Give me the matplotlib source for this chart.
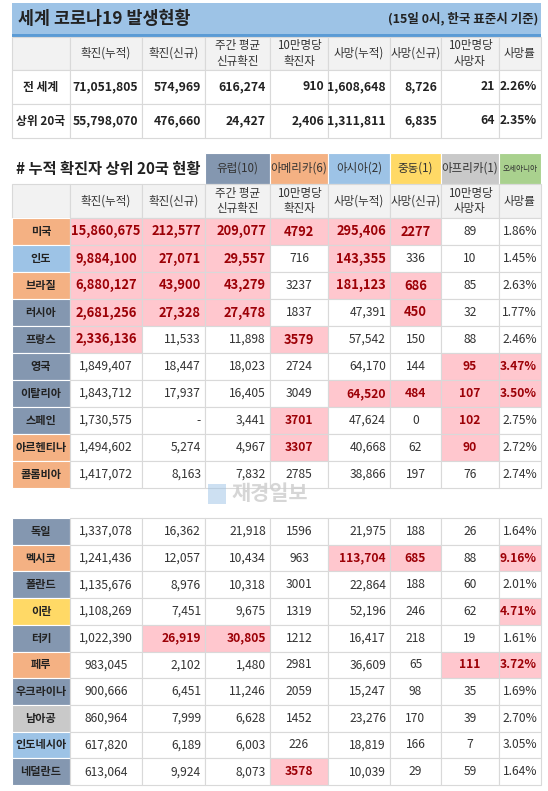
import matplotlib.pyplot as plt
from matplotlib.patches import Rectangle

plt.rcParams['font.family'] = ['Noto Sans CJK KR', 'DejaVu Sans']

# column edges (pixels)
xs = [12, 70, 142, 205, 270, 328, 390, 441, 499, 541]

headers = ["확진(누적)", "확진(신규)", "주간 평균\n신규확진", "10만명당\n확진자",
           "사망(누적)", "사망(신규)", "10만명당\n사망자", "사망률"]

summary_names = ["전 세계", "상위 20국"]
summary_rows = [
    ["71,051,805", "574,969", "616,274", "910", "1,608,648", "8,726", "21", "2.26%"],
    ["55,798,070", "476,660", "24,427", "2,406", "1,311,811", "6,835", "64", "2.35%"],
]

regions = ["유럽(10)", "아메리카(6)", "아시아(2)", "중동(1)", "아프리카(1)", "오세아니아"]
region_colors = {"EU": "#8497B0", "AM": "#F4B183", "AS": "#9DC3E6",
                 "ME": "#FFD966", "AF": "#C9C9C9", "OC": "#A9D18E"}
region_keys = ["EU", "AM", "AS", "ME", "AF", "OC"]

countries = ["미국", "인도", "브라질", "러시아", "프랑스", "영국", "이탈리아", "스페인", "아르헨티나", "콜롬비아",
             "독일", "멕시코", "폴란드", "이란", "터키", "페루", "우크라이나", "남아공", "인도네시아", "네덜란드"]
country_region = ["AM", "AS", "AM", "EU", "EU", "EU", "EU", "EU", "AM", "AM",
                  "EU", "AM", "EU", "ME", "EU", "AM", "EU", "AF", "AS", "EU"]
values = [
    ["15,860,675", "212,577", "209,077", "4792", "295,406", "2277", "89", "1.86%"],
    ["9,884,100", "27,071", "29,557", "716", "143,355", "336", "10", "1.45%"],
    ["6,880,127", "43,900", "43,279", "3237", "181,123", "686", "85", "2.63%"],
    ["2,681,256", "27,328", "27,478", "1837", "47,391", "450", "32", "1.77%"],
    ["2,336,136", "11,533", "11,898", "3579", "57,542", "150", "88", "2.46%"],
    ["1,849,407", "18,447", "18,023", "2724", "64,170", "144", "95", "3.47%"],
    ["1,843,712", "17,937", "16,405", "3049", "64,520", "484", "107", "3.50%"],
    ["1,730,575", "-", "3,441", "3701", "47,624", "0", "102", "2.75%"],
    ["1,494,602", "5,274", "4,967", "3307", "40,668", "62", "90", "2.72%"],
    ["1,417,072", "8,163", "7,832", "2785", "38,866", "197", "76", "2.74%"],
    ["1,337,078", "16,362", "21,918", "1596", "21,975", "188", "26", "1.64%"],
    ["1,241,436", "12,057", "10,434", "963", "113,704", "685", "88", "9.16%"],
    ["1,135,676", "8,976", "10,318", "3001", "22,864", "188", "60", "2.01%"],
    ["1,108,269", "7,451", "9,675", "1319", "52,196", "246", "62", "4.71%"],
    ["1,022,390", "26,919", "30,805", "1212", "16,417", "218", "19", "1.61%"],
    ["983,045", "2,102", "1,480", "2981", "36,609", "65", "111", "3.72%"],
    ["900,666", "6,451", "11,246", "2059", "15,247", "98", "35", "1.69%"],
    ["860,964", "7,999", "6,628", "1452", "23,276", "170", "39", "2.70%"],
    ["617,820", "6,189", "6,003", "226", "18,819", "166", "7", "3.05%"],
    ["613,064", "9,924", "8,073", "3578", "10,039", "29", "59", "1.64%"],
]
# highlighted cells (row, col)
highlight = {
    0: [0, 1, 2, 3, 4, 5], 1: [0, 1, 2, 4], 2: [0, 1, 2, 4, 5], 3: [0, 1, 2, 5],
    4: [0, 3], 5: [6, 7], 6: [4, 5, 6, 7], 7: [3, 6], 8: [3, 6],
    11: [4, 5, 7], 13: [7], 14: [1, 2], 15: [6, 7], 19: [3],
}

PINK = "#FFC7CE"
RED = "#9C0006"
GRID = "#D9D9D9"
HEAD = "#F2F2F2"

fig = plt.figure(figsize=(5.48, 7.91), dpi=100)
ax = fig.add_axes([0, 0, 1, 1])
ax.set_xlim(0, 548)
ax.set_ylim(791, 0)
ax.axis("off")


def cell(x0, x1, y0, y1, fc="white", ec=GRID):
    ax.add_patch(Rectangle((x0, y0), x1 - x0, y1 - y0, facecolor=fc, edgecolor=ec, lw=0.8))


def put(text, x0, x1, y0, y1, align="center", **kw):
    yc = (y0 + y1) / 2
    if align == "right":
        ax.text(x1 - 4, yc, text, ha="right", va="center", **kw)
    else:
        ax.text((x0 + x1) / 2, yc, text, ha="center", va="center", **kw)


# title bar
ax.add_patch(Rectangle((12, 3), 529, 32, facecolor="#9DC3E6", edgecolor="none"))
ax.add_patch(Rectangle((12, 34), 529, 2.5, facecolor="#5B9BD5", edgecolor="none"))
ax.text(18, 19, "세계 코로나19 발생현황", ha="left", va="center", fontsize=12.5, fontweight="bold", color="#222")
ax.text(538, 19, "(15일 0시, 한국 표준시 기준)", ha="right", va="center", fontsize=9, fontweight="bold", color="#222")


def header_row(y0, y1):
    for i in range(9):
        cell(xs[i], xs[i + 1], y0, y1, fc=HEAD)
    for i, h in enumerate(headers):
        put(h, xs[i + 1], xs[i + 2], y0, y1, fontsize=8.3, color="#333", linespacing=1.25)


header_row(37, 70)
ys = [70, 104, 138]
for r, name in enumerate(summary_names):
    y0, y1 = ys[r], ys[r + 1]
    cell(xs[0], xs[1], y0, y1)
    put(name, xs[0], xs[1], y0, y1, fontsize=8.5, fontweight="bold", color="#222")
    for c, v in enumerate(summary_rows[r]):
        cell(xs[c + 1], xs[c + 2], y0, y1)
        put(v, xs[c + 1], xs[c + 2], y0, y1, align="right", fontsize=8.8, fontweight="bold", color="#222")

# second section
ax.text(16, 169, "# 누적 확진자 상위 20국 현황", ha="left", va="center", fontsize=11, fontweight="bold", color="#222")
for i, (lab, key) in enumerate(zip(regions, region_keys)):
    x0, x1 = xs[i + 3], xs[i + 4]
    ax.add_patch(Rectangle((x0, 153), x1 - x0, 31, facecolor=region_colors[key], edgecolor="white", lw=0.8))
    put(lab, x0, x1, 153, 184, fontsize=5.5 if key == "OC" else 8.3, color="#333")

header_row(184, 218)

aligns = ["center", "right", "right", "center", "right", "center", "center", "right"]
for r, name in enumerate(countries):
    if r < 10:
        h = 27.0
        y0 = 218 + r * h
    else:
        h = 26.7
        y0 = 518 + (r - 10) * h
    y1 = y0 + h
    cell(xs[0], xs[1], y0, y1, fc=region_colors[country_region[r]], ec="white")
    put(name, xs[0], xs[1], y0, y1, fontsize=8, fontweight="bold", color="#222")
    hl = highlight.get(r, [])
    for c, v in enumerate(values[r]):
        on = c in hl
        cell(xs[c + 1], xs[c + 2], y0, y1, fc=PINK if on else "white")
        put(v, xs[c + 1], xs[c + 2], y0, y1, align=aligns[c],
            fontsize=9.3 if on and r < 5 else 8.7,
            fontweight="bold" if on else "normal", color=RED if on else "#333")

# watermark
ax.add_patch(Rectangle((208, 484), 18, 20, facecolor="#9DC3E6", edgecolor="none", alpha=0.5))
ax.text(232, 494, "재경일보", ha="left", va="center", fontsize=15, fontweight="bold", color="#CCCCCC", alpha=0.8)

fig.savefig("out.png", dpi=100)
